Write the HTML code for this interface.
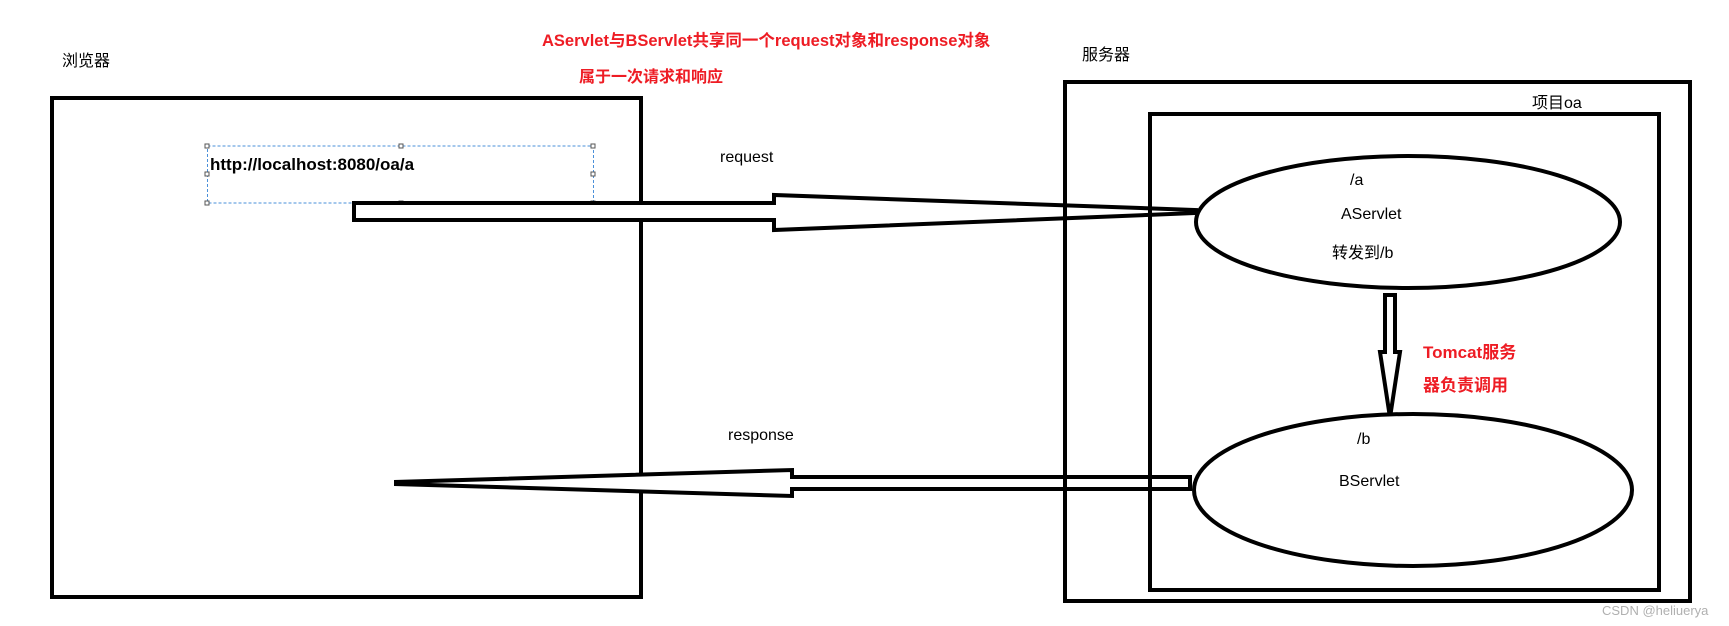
<!DOCTYPE html>
<html><head><meta charset="utf-8"><style>
html,body{margin:0;padding:0;background:#fff}
svg{display:block}
text{font-family:"Liberation Sans","Noto Sans CJK SC",sans-serif}
</style></head><body>
<svg width="1729" height="626" viewBox="0 0 1729 626" xmlns="http://www.w3.org/2000/svg">
<rect x="0" y="0" width="1729" height="626" fill="#fff"/>
<!-- browser box -->
<rect x="52" y="98" width="589" height="499" fill="none" stroke="#000" stroke-width="4"/>
<text x="62" y="66" font-size="16" fill="#000">浏览器</text>
<!-- red titles -->
<text x="542" y="46" font-size="16.5" font-weight="bold" fill="#ee1c24">AServlet与BServlet共享同一个request对象和response对象</text>
<text x="579" y="82" font-size="16" font-weight="bold" fill="#ee1c24">属于一次请求和响应</text>
<!-- URL dashed box -->
<rect x="207.5" y="146" width="386" height="57" fill="none" stroke="#4a90d9" stroke-width="1" stroke-dasharray="3,2"/>
<g fill="#fff" stroke="#555" stroke-width="1">
<rect x="205" y="144" width="4" height="4"/><rect x="399" y="144" width="4" height="4"/><rect x="591" y="144" width="4" height="4"/>
<rect x="205" y="172" width="4" height="4"/><rect x="591" y="172" width="4" height="4"/>
<rect x="205" y="201" width="4" height="4"/><rect x="399" y="201" width="4" height="4"/><rect x="591" y="201" width="4" height="4"/>
</g>
<text x="210" y="170" font-size="17" font-weight="bold" fill="#000">http://localhost:8080/oa/a</text>
<!-- request arrow -->
<path d="M354 203 L774 203 L774 195 L1196 210 L1196 213 L774 230 L774 220 L354 220 Z" fill="#fff" stroke="#000" stroke-width="4" stroke-linejoin="miter"/>
<text x="720" y="162" font-size="16" fill="#000">request</text>
<!-- response arrow -->
<path d="M1190 477 L792 477 L792 470 L396 482 L396 484 L792 496 L792 489 L1190 489 Z" fill="#fff" stroke="#000" stroke-width="4"/>
<text x="728" y="440" font-size="16" fill="#000">response</text>
<!-- server box -->
<rect x="1065" y="82" width="625" height="519" fill="none" stroke="#000" stroke-width="4"/>
<text x="1082" y="60" font-size="16" fill="#000">服务器</text>
<rect x="1150" y="114" width="509" height="476" fill="none" stroke="#000" stroke-width="4"/>
<text x="1532" y="108" font-size="16" fill="#000">项目oa</text>
<!-- ellipses -->
<ellipse cx="1408" cy="222" rx="212" ry="66" fill="#fff" stroke="#000" stroke-width="4"/>
<text x="1350" y="185" font-size="16" fill="#000">/a</text>
<text x="1341" y="219" font-size="16" fill="#000">AServlet</text>
<text x="1332" y="258" font-size="16" fill="#000">转发到/b</text>
<ellipse cx="1413" cy="490" rx="219" ry="76" fill="#fff" stroke="#000" stroke-width="4"/>
<text x="1357" y="444" font-size="16" fill="#000">/b</text>
<text x="1339" y="486" font-size="16" fill="#000">BServlet</text>
<!-- down arrow -->
<path d="M1385 295 L1395 295 L1395 352 L1400 352 L1391 411 L1389 411 L1380 352 L1385 352 Z" fill="#fff" stroke="#000" stroke-width="4"/>
<text x="1423" y="358" font-size="17" font-weight="bold" fill="#ee1c24">Tomcat服务</text>
<text x="1423" y="391" font-size="17" font-weight="bold" fill="#ee1c24">器负责调用</text>
<text x="1602" y="615" font-size="13" fill="#b0b0b0">CSDN @heliuerya</text>
</svg>
</body></html>
